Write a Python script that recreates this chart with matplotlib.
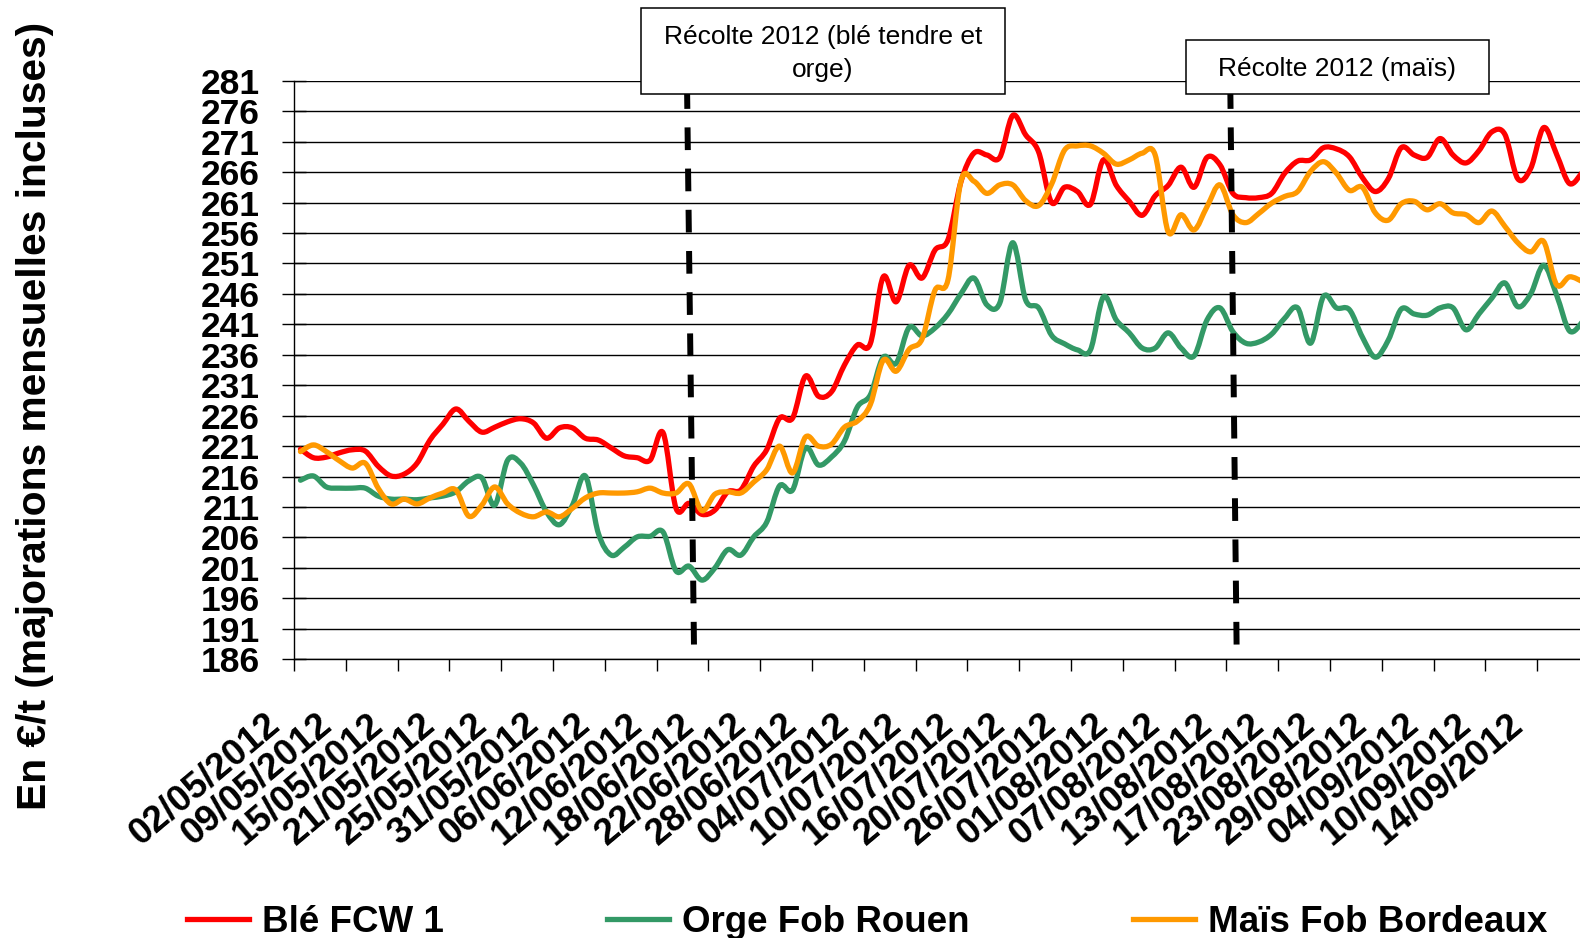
import numpy as np
import matplotlib
matplotlib.use("Agg")
import matplotlib.pyplot as plt
from matplotlib.patches import Rectangle, PathPatch
from matplotlib.path import Path
from matplotlib.lines import Line2D
from matplotlib.transforms import ScaledTranslation

plt.rcParams['font.family'] = ['Liberation Sans', 'DejaVu Sans']

# one tick label every 4 quotations
dates = ["02/05/2012", "09/05/2012", "15/05/2012", "21/05/2012", "25/05/2012",
         "31/05/2012", "06/06/2012", "12/06/2012", "18/06/2012", "22/06/2012",
         "28/06/2012", "04/07/2012", "10/07/2012", "16/07/2012", "20/07/2012",
         "26/07/2012", "01/08/2012", "07/08/2012", "13/08/2012", "17/08/2012",
         "23/08/2012", "29/08/2012", "04/09/2012", "10/09/2012", "14/09/2012"]

ble = [220.5, 219.1, 219.2, 219.9, 220.4, 220.2, 217.7, 216.1, 216.4, 218.2,
       222.0, 224.6, 227.1, 225.1, 223.3, 224.1, 225.0, 225.5, 224.8, 222.3,
       224.0, 224.0, 222.3, 222.0, 220.7, 219.4, 219.1, 218.7, 223.2, 210.8,
       211.6, 209.8, 210.5, 213.5, 213.8, 217.7, 220.4, 225.6, 225.6, 232.5,
       229.2, 229.9, 234.3, 237.6, 237.8, 248.8, 244.7, 250.7, 248.6, 253.2,
       254.9, 264.4, 269.1, 268.8, 268.4, 275.3, 272.1, 269.3, 261.0, 263.5,
       262.8, 260.7, 268.0, 263.8, 261.2, 258.9, 262.1, 263.8, 266.8, 263.5,
       268.4, 267.2, 262.5, 261.8, 261.8, 262.5, 265.8, 267.8, 268.0, 270.0,
       269.8, 268.5, 265.1, 262.8, 264.9, 270.0, 268.8, 268.4, 271.5, 268.8,
       267.5, 269.5, 272.6, 272.2, 264.9, 266.6, 273.3, 268.9, 264.1, 266.0]

orge = [215.4, 216.1, 214.3, 214.1, 214.1, 214.1, 212.8, 212.3, 212.3, 212.2,
        212.5, 212.8, 213.5, 215.3, 215.8, 211.3, 218.7, 218.2, 214.6, 210.2,
        208.1, 211.3, 216.1, 206.7, 203.1, 204.4, 206.1, 206.2, 206.9, 200.5,
        201.3, 199.0, 201.0, 204.0, 203.1, 206.1, 208.5, 214.5, 213.8, 220.7,
        217.9, 219.2, 221.8, 227.4, 229.4, 235.6, 234.6, 240.5, 239.1, 240.4,
        242.7, 246.0, 248.6, 244.2, 244.5, 254.4, 245.0, 243.7, 239.2, 237.8,
        236.8, 236.8, 245.5, 241.7, 239.6, 237.1, 237.1, 239.6, 237.1, 235.8,
        241.7, 243.7, 239.8, 237.9, 238.1, 239.4, 242.0, 243.7, 237.9, 245.6,
        243.7, 243.4, 238.9, 235.6, 238.4, 243.5, 242.7, 242.5, 243.7, 243.7,
        240.1, 242.7, 245.3, 247.8, 243.9, 246.0, 250.7, 245.8, 239.9, 241.4]

mais = [220.1, 221.2, 220.1, 218.6, 217.4, 218.2, 214.1, 211.5, 212.3, 211.5,
        212.5, 213.3, 213.8, 209.5, 211.3, 214.3, 211.5, 210.0, 209.4, 210.2,
        209.4, 210.8, 212.5, 213.3, 213.3, 213.3, 213.5, 214.1, 213.3, 213.3,
        214.8, 210.4, 213.1, 213.5, 213.3, 215.1, 217.1, 221.0, 216.6, 222.5,
        221.0, 221.3, 224.1, 225.1, 227.8, 235.1, 233.3, 236.9, 238.6, 246.6,
        248.3, 264.5, 264.5, 262.5, 263.9, 263.9, 261.3, 260.5, 264.0, 269.6,
        270.3, 270.3, 269.1, 267.3, 268.0, 269.1, 268.8, 256.2, 259.0, 256.5,
        260.3, 263.9, 259.0, 257.7, 259.2, 260.9, 262.0, 262.8, 266.1, 267.7,
        265.8, 263.0, 263.5, 259.3, 258.1, 260.8, 261.2, 259.8, 260.8, 259.3,
        259.0, 257.7, 259.6, 257.1, 254.4, 252.9, 254.6, 247.5, 248.8, 248.0]

series_names = ["Blé FCW 1", "Orge Fob Rouen", "Maïs Fob Bordeaux"]
series_colors = ["#FF0000", "#339966", "#FF9900"]

# harvest markers: (x at top, x at bottom) in category units, and their captions
harvest_x = [(30.35, 30.9), (72.3, 72.8)]
harvest_text = ["Récolte 2012 (blé tendre et\norge)", "Récolte 2012 (maïs)"]


def smooth_path(xs, ys):
    # cubic bezier through every point, spreadsheet-style smoothed line
    pts = np.column_stack([xs, ys])
    n = len(pts)
    verts = [pts[0]]
    codes = [Path.MOVETO]
    for i in range(n - 1):
        p0 = pts[i - 1] if i > 0 else pts[i]
        p1 = pts[i]
        p2 = pts[i + 1]
        p3 = pts[i + 2] if i + 2 < n else pts[i + 1]
        verts += [p1 + (p2 - p0) / 6, p2 - (p3 - p1) / 6, p2]
        codes += [Path.CURVE4] * 3
    return Path(verts, codes)


W, H = 1580, 938
fig = plt.figure(figsize=(W / 100, H / 100), dpi=100)
ax = fig.add_axes([294 / W, (H - 659.3) / H, 1295 / W, (659.3 - 80.7) / H])

x = np.arange(len(ble)) + 0.5
handles = []
for vals, name, col in zip([ble, orge, mais], series_names, series_colors):
    ax.add_patch(PathPatch(smooth_path(x, vals), facecolor='none', edgecolor=col,
                           lw=3.8, joinstyle='round', capstyle='round', zorder=3))
    handles.append(Line2D([], [], color=col, lw=3.8, label=name))

for xt, xb in harvest_x:
    ax.plot([xt, xb], [280.1, 186], color='black', lw=4.3, dashes=(3.8, 3.1),
            zorder=4)

ax.set_xlim(0, 100)
ax.set_ylim(186, 281)
ax.set_yticks(np.arange(186, 282, 5))
ax.set_xticks(np.arange(0, 4 * len(dates), 4))
ax.set_xticklabels(dates)
ax.yaxis.grid(True, color='black', lw=1.0)
ax.set_axisbelow(True)

for s in ['top', 'right']:
    ax.spines[s].set_visible(False)
for s in ['left', 'bottom']:
    ax.spines[s].set_color('black')
    ax.spines[s].set_linewidth(1.0)

ax.tick_params(axis='y', direction='inout', length=17, width=1.0, pad=16,
               labelsize=25.5)
ax.tick_params(axis='x', direction='out', length=8.6, width=1.0, pad=35,
               labelsize=26.5)
for lab in ax.get_yticklabels():
    lab.set_fontweight('bold')
shift = ScaledTranslation(-19 / 100, 0, fig.dpi_scale_trans)
for lab in ax.get_xticklabels():
    lab.set_fontweight('bold')
    lab.set_rotation(40)
    lab.set_rotation_mode('anchor')
    lab.set_ha('right')
    lab.set_va('center')
    lab.set_transform(lab.get_transform() + shift)

fig.text(35 / W, (H - 416) / H, "En €/t (majorations mensuelles incluses)",
         rotation=90, ha='center', va='center', fontsize=29.3, fontweight='bold')

# caption boxes above the dashed harvest lines
boxes = [(641, 8, 1005, 94.5), (1186, 40, 1489, 94)]
for (x0, y0, x1, y1), txt in zip(boxes, harvest_text):
    fig.add_artist(Rectangle((x0 / W, (H - y1) / H), (x1 - x0) / W, (y1 - y0) / H,
                             transform=fig.transFigure, facecolor='white',
                             edgecolor='black', lw=1.1, zorder=5))
    fig.text((x0 + x1) / 2 / W, (H - (y0 + y1) / 2 - 2) / H, txt, ha='center',
             va='center', fontsize=19, linespacing=1.45, zorder=6)

fig.legend(handles=handles, loc='center left',
           bbox_to_anchor=(187 / W, (H - 922) / H), ncol=3,
           frameon=False, borderpad=0, borderaxespad=0, handlelength=1.68,
           handletextpad=0.35, columnspacing=4.45,
           prop={'size': 26.5, 'weight': 'bold'})

fig.savefig("out.png", dpi=100)
